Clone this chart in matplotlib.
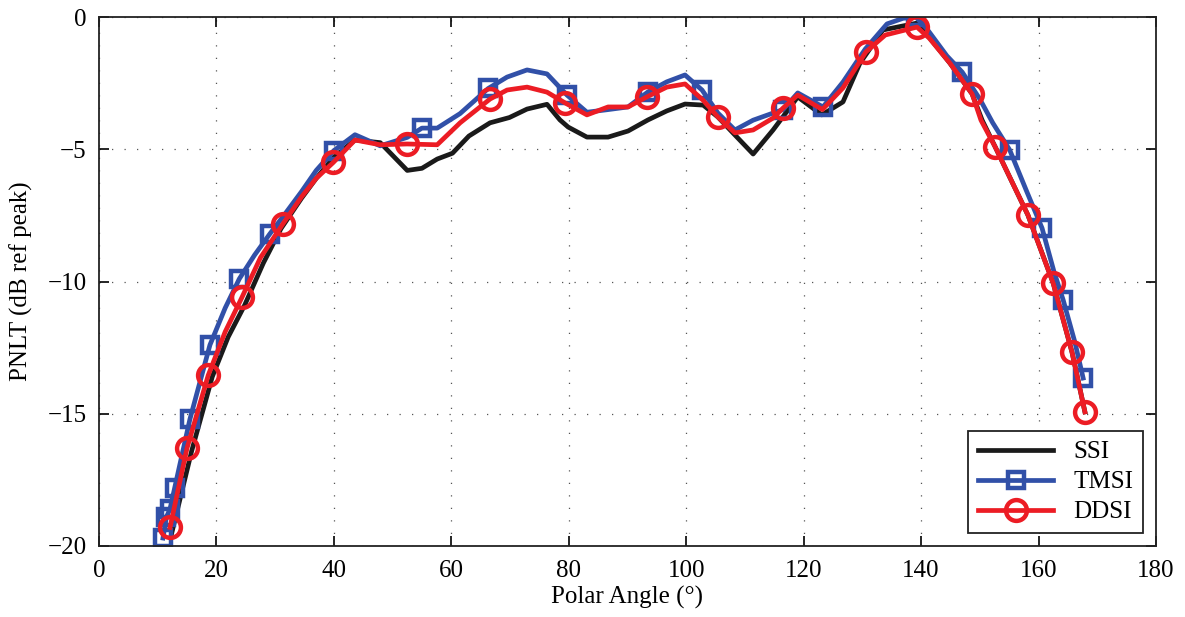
import matplotlib
matplotlib.use("Agg")
import matplotlib.pyplot as plt

# SSI (black)
ssi_x = [12.3, 15.8, 19.3, 22.0, 24.8, 28.0, 31.0, 34.5, 37.0, 40.0, 43.6, 47.9,
         52.5, 55.0, 57.6, 60.2, 63.0, 66.6, 69.9, 72.9, 76.3, 78.5, 79.9, 83.1,
         86.7, 90.1, 93.5, 96.7, 99.8, 102.9, 105.4, 108.3, 111.4, 114.8, 119.0,
         123.1, 126.7, 129.6, 133.5, 139.3, 141.5, 144.9, 148.7, 150.4, 152.6,
         158.2, 162.5, 165.7, 167.9]
ssi_y = [-19.6, -16.4, -13.6, -12.1, -10.9, -9.3, -8.0, -6.85, -6.1, -5.3, -4.65, -4.75,
         -5.8, -5.72, -5.37, -5.15, -4.5, -4.0, -3.8, -3.48, -3.3, -3.89, -4.16, -4.54,
         -4.54, -4.31, -3.89, -3.55, -3.29, -3.33, -3.78, -4.46, -5.18, -4.27, -3.02,
         -3.7, -3.21, -1.74, -0.49, -0.23, -0.8, -1.74, -2.91, -3.9, -4.9,
         -7.49, -10.06, -12.67, -14.93]

# TMSI (blue)
tmsi_x = [10.9, 11.5, 12.1, 12.9, 15.5, 18.9, 21.5, 23.9, 26.5, 29.1, 31.5, 34.5,
          37.0, 40.0, 43.6, 47.9, 52.5, 55.0, 57.6, 61.5, 66.3, 69.5, 72.9, 76.3,
          79.7, 83.1, 86.7, 90.1, 93.5, 96.7, 99.8, 102.7, 105.4, 108.3, 111.4,
          114.8, 116.5, 119.0, 123.3, 126.7, 130.5, 134.2, 136.9, 139.1, 141.0,
          144.4, 147.0, 150.0, 152.2, 155.1, 158.0, 160.6, 162.6, 164.2, 166.2, 167.6]
tmsi_y = [-19.7, -18.9, -18.6, -17.8, -15.2, -12.4, -11.0, -9.9, -9.0, -8.2, -7.5, -6.6,
          -5.8, -5.05, -4.45, -4.87, -4.55, -4.2, -4.2, -3.65, -2.7, -2.27, -2.0, -2.15,
          -2.95, -3.6, -3.5, -3.4, -2.83, -2.45, -2.19, -2.76, -3.63, -4.27, -3.9,
          -3.63, -3.5, -2.87, -3.4, -2.46, -1.21, -0.26, -0.05, 0.0, -0.45,
          -1.47, -2.08, -3.1, -4.0, -5.03, -6.6, -7.98, -9.6, -10.7, -12.3, -13.65]
tmsi_marks = [0, 1, 2, 3, 4, 5, 7, 9, 13, 17, 20, 24, 28, 31, 36, 38, 43, 46, 49, 51, 53, 55]

# DDSI (red)
ddsi_x = [12.1, 15.0, 18.6, 21.5, 24.35, 27.5, 31.3, 34.5, 37.0, 39.9, 43.6, 47.9,
          52.5, 57.6, 61.5, 66.6, 69.5, 72.9, 76.3, 79.4, 83.1, 86.7, 90.1, 93.3,
          96.7, 99.8, 102.9, 105.4, 108.3, 111.4, 114.8, 116.5, 119.0, 123.2, 126.7,
          130.6, 133.9, 139.3, 141.4, 144.9, 148.7, 150.2, 152.6, 158.2, 162.5,
          165.7, 167.9]
ddsi_y = [-19.3, -16.3, -13.55, -11.9, -10.6, -9.1, -7.83, -6.8, -6.1, -5.5, -4.65, -4.83,
          -4.8, -4.83, -4.0, -3.1, -2.76, -2.65, -2.84, -3.25, -3.7, -3.4, -3.4, -3.02,
          -2.65, -2.53, -3.15, -3.78, -4.38, -4.27, -3.82, -3.44, -2.95, -3.5, -2.68,
          -1.32, -0.68, -0.38, -0.8, -1.74, -2.91, -3.9, -4.9, -7.49, -10.07,
          -12.67, -14.93]
ddsi_marks = [0, 1, 2, 4, 6, 9, 12, 15, 19, 23, 27, 31, 35, 37, 40, 42, 43, 44, 45, 46]

plt.rcParams['font.family'] = ['Liberation Serif', 'DejaVu Serif']
plt.rcParams['font.size'] = 18

fig = plt.figure(figsize=(11.85, 6.17), dpi=100)
ax = fig.add_axes([0.0835, 0.1151, 0.892, 0.8573])

ax.plot(ssi_x, ssi_y, color='#1a1a1a', lw=3.4, label='SSI')
ax.plot(tmsi_x, tmsi_y, color='#3150a8', lw=3.4, marker='s', markersize=11.5,
        markerfacecolor='none', markeredgewidth=3.2, markevery=tmsi_marks, label='TMSI')
ax.plot(ddsi_x, ddsi_y, color='#ec1c24', lw=3.4, marker='o', markersize=15,
        markerfacecolor='none', markeredgewidth=3.2, markevery=ddsi_marks, label='DDSI')

ax.set_xlim(0, 180)
ax.set_ylim(-20, 0)
ax.set_xticks(range(0, 181, 20))
ax.set_yticks([-20, -15, -10, -5, 0])
ax.set_yticklabels(['\u221220', '\u221215', '\u221210', '\u22125', '0'])
ax.grid(True, color='#555555', linestyle=(0, (1, 9)), linewidth=0.9)
ax.tick_params(direction='in', top=True, right=True, length=7, width=1.2)
ax.tick_params(axis='x', pad=10)
ax.tick_params(axis='y', pad=9)
for s in ax.spines.values():
    s.set_linewidth(1.3)
    s.set_color('#222222')
ax.set_xlabel('Polar Angle (\u00b0)', labelpad=3)
ax.set_ylabel('PNLT (dB ref peak)', labelpad=10)

leg = ax.legend(loc='lower right', handlelength=3.0, fancybox=False, framealpha=1,
                edgecolor='#222222', borderpad=0.4, labelspacing=0.3, fontsize=18)
leg.get_frame().set_linewidth(1.3)

fig.savefig('out.png', dpi=100)
